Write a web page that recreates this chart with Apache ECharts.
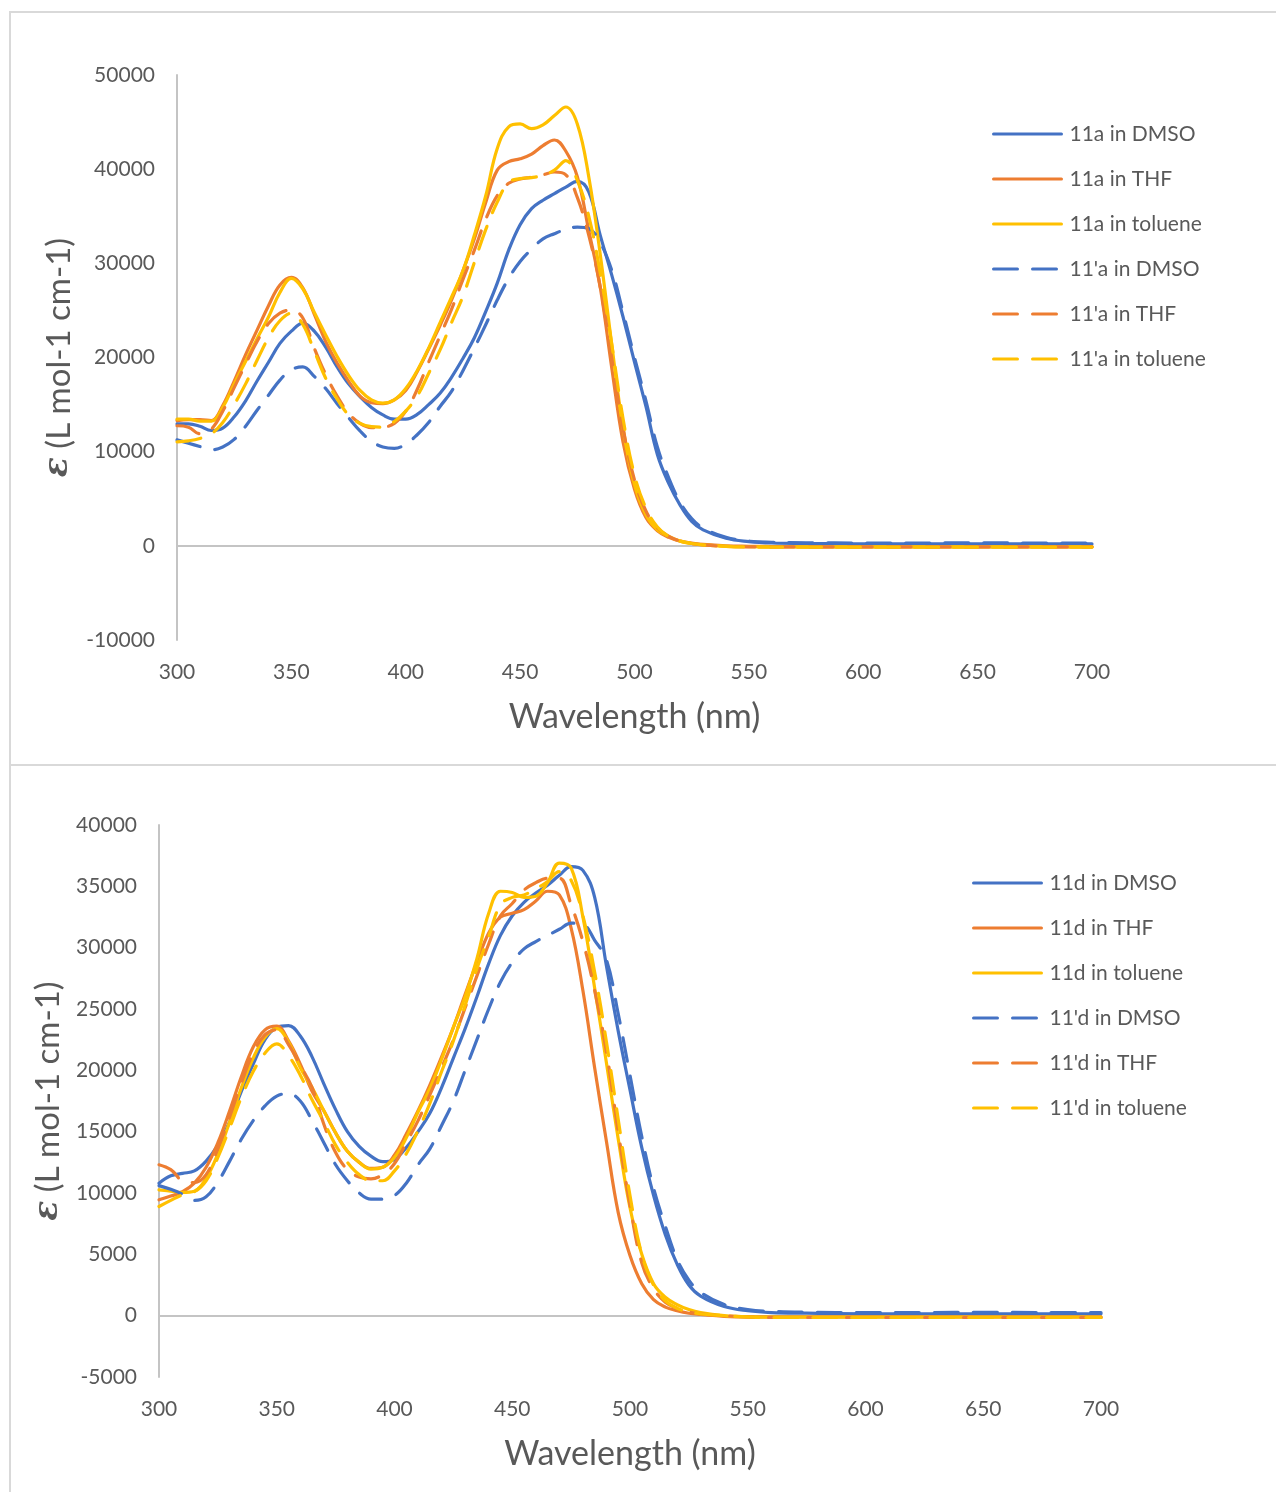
<!DOCTYPE html>
<html>
<head>
<meta charset="utf-8">
<title>Absorption spectra of 11a / 11'a and 11d / 11'd</title>
<script src="https://cdn.jsdelivr.net/npm/echarts@6/dist/echarts.min.js"></script>
<style>
  html, body { margin: 0; padding: 0; background: #ffffff; }
  #chart { width: 1276px; height: 1492px; }
</style>
</head>
<body>
<div id="chart"></div>
<script>
// Wavelength sampling (nm) shared by every spectrum
const wavelengths = [300,305,310,315,320,325,330,335,340,345,350,355,360,365,370,375,380,385,390,395,
  400,405,410,415,420,425,430,435,440,445,450,455,460,465,470,475,480,485,490,495,
  500,505,510,515,520,525,530,540,550,560,575,600,625,650,675,700];

// Molar absorptivity, L mol-1 cm-1 — compound 11a (solid) and 11'a (dashed)
const eps11a_DMSO = [12950,12950,12700,12250,12500,13700,15400,17500,19500,21500,22800,23650,22800,21100,19000,17200,15850,14700,13900,13450,
  13450,13950,15000,16200,17900,19900,22100,24900,27900,31400,34100,35800,36700,37400,38100,38700,37600,33000,28800,24300,
  19500,14800,9700,6600,4300,2600,1700,800,450,300,250,200,200,200,200,200];
const eps11a_THF = [13300,13400,13400,13300,14900,17500,20300,22900,25500,27700,28500,27400,24600,21700,19400,17500,15900,15200,15100,15500,
  16500,18500,20900,23400,26100,29200,32600,36500,39900,40800,41100,41600,42500,43100,41900,39200,33500,27500,19000,11000,
  6000,3000,1600,900,500,300,150,0,-50,-80,-100,-100,-100,-100,-100,-100];
const eps11a_toluene = [13450,13450,13250,13250,14700,17200,19600,22000,24300,26900,28400,27300,24800,22400,20100,18100,16500,15500,15150,15500,
  16700,18600,21000,23700,26400,29200,33000,37200,42200,44500,44800,44300,44700,45700,46600,44800,39200,31000,21500,12500,
  6500,3300,1700,1000,500,250,100,-50,-100,-120,-120,-120,-120,-120,-120,-120];
const eps11pa_DMSO = [11250,10900,10550,10200,10500,11300,12700,14400,16000,17600,18700,19000,18000,16700,15100,13600,12200,11100,10500,10350,
  10800,11800,13100,14800,16400,18600,21000,23500,26100,28400,30200,31500,32600,33150,33600,33850,33700,32200,29300,24800,
  20000,15400,10500,7200,4600,2900,1900,900,500,380,330,300,300,330,300,300];
const eps11pa_THF = [12750,12600,11900,12400,14300,16800,19300,21700,23600,24700,25050,24200,21000,18200,15900,14100,13000,12550,12600,13000,
  14300,16600,19500,22300,25100,28300,31400,34700,37200,38500,38950,39150,39400,39700,39400,37000,33000,27500,20000,12500,
  7000,3700,1900,1000,500,250,100,-50,-100,-100,-100,-100,-100,-100,-100,-100];
const eps11pa_toluene = [11050,11150,11400,11900,13100,15000,17200,19700,22100,23900,24700,23500,20700,17800,15600,13900,13000,12650,12600,13200,
  14300,15900,18300,20800,23700,26500,30100,33600,36500,38600,39000,39100,39350,39900,40900,38800,35000,29000,21500,13500,
  7500,4000,2000,1000,500,250,100,-50,-120,-130,-130,-130,-130,-130,-130,-130];

// Molar absorptivity, L mol-1 cm-1 — compound 11d (solid) and 11'd (dashed)
const eps11d_DMSO = [10800,11400,11600,11800,12600,13900,15800,18300,20500,22500,23500,23650,22800,21100,18900,16800,15000,13800,13000,12550,
  12750,13700,15000,16500,18600,21000,23400,26000,28700,31000,32600,33700,34450,35100,35900,36600,36300,34100,28500,23200,
  18400,13700,9800,6600,4200,2500,1600,750,400,250,200,150,150,150,150,150];
const eps11d_THF = [9450,9750,10100,10800,12100,14100,16700,19500,21900,23300,23600,22400,20500,18300,16700,14900,13400,12500,12000,12100,
  13100,14800,16700,18800,21100,23500,26200,28800,31200,32500,32800,33100,33800,34600,34300,31600,26500,20200,14200,8400,
  4900,2600,1300,700,400,200,100,-50,-100,-100,-100,-100,-100,-100,-100,-100];
const eps11d_toluene = [10250,10150,10050,10150,11200,13200,15800,18600,21000,22700,23400,22300,20200,18600,16700,14900,13400,12500,11950,12100,
  12900,14500,16600,18500,20900,23500,26000,29100,32800,34600,34500,34100,34200,35300,36900,36500,32500,26700,20600,14400,
  8800,5000,2600,1500,900,500,250,0,-100,-120,-120,-120,-120,-120,-120,-120];
const eps11pd_DMSO = [10600,10300,9900,9400,9700,10900,12600,14400,15900,17100,17900,18100,17500,15900,14100,12300,11000,10000,9500,9500,
  9800,10800,12300,13600,15500,17500,20000,22500,25000,27200,28800,29900,30500,31000,31500,32000,31900,30600,29000,24600,
  19600,14600,10400,7300,4600,2900,1900,900,500,350,280,250,250,280,250,250];
const eps11pd_THF = [12300,11900,11000,10850,11500,13600,16200,19000,21400,22900,23300,22100,20400,18600,15600,13300,11900,11300,11150,11500,
  12400,14100,15900,18000,20200,22500,25100,27700,30300,32600,33600,34700,35300,35650,35650,33500,30500,26500,21500,15000,
  9000,4300,2200,1100,600,300,150,0,-100,-150,-150,-150,-150,-150,-150,-150];
const eps11pd_toluene = [8900,9400,9850,10100,11000,12900,15300,17800,19900,21400,22150,21200,19600,17600,15800,13900,12500,11500,11000,11000,
  11800,13200,15100,17300,19900,22400,25300,28300,30900,33500,34100,34300,34800,35400,36200,35500,32600,28000,22300,16000,
  9800,5000,2500,1200,600,300,150,0,-100,-150,-150,-150,-150,-150,-150,-150];

// Legend labels
const namesTop = ['11a in DMSO', '11a in THF', '11a in toluene', "11'a in DMSO", "11'a in THF", "11'a in toluene"];
const namesBottom = ['11d in DMSO', '11d in THF', '11d in toluene', "11'd in DMSO", "11'd in THF", "11'd in toluene"];

// Axis tick settings
const xMin = 300, xMax = 700, xStep = 50;
const yTop = { min: -10000, max: 50000, step: 10000 };
const yBottom = { min: -5000, max: 40000, step: 5000 };

const BLUE = '#4472C4', ORANGE = '#ED7D31', GOLD = '#FFC000';
const TEXT = '#595959', AXIS = '#c4c4c4';
const FONT = 'Lato, "Open Sans", sans-serif';
const DASH = [24, 15];

function pairs(values) {
  return wavelengths.map((w, i) => [w, values[i]]);
}

function spectrum(name, values, color, dashed, gridIdx) {
  return {
    name: name,
    type: 'line',
    xAxisIndex: gridIdx * 2,
    yAxisIndex: gridIdx,
    data: pairs(values),
    symbol: 'none',
    smooth: 0.4,
    lineStyle: { color: color, width: 3.2, type: dashed ? DASH : 'solid', cap: 'round', join: 'round' },
    itemStyle: { color: color },
    emphasis: { disabled: true },
    animation: false
  };
}

function valueXAxis(gridIdx) {
  return {
    type: 'value', gridIndex: gridIdx, min: xMin, max: xMax, interval: xStep,
    position: 'bottom',
    axisLine: { show: false, onZero: false },
    axisTick: { show: false },
    splitLine: { show: false },
    axisLabel: { color: TEXT, fontSize: 21, fontFamily: FONT, margin: 22, formatter: v => String(v) },
    name: 'Wavelength (nm)',
    nameLocation: 'middle',
    nameGap: 60,
    nameTextStyle: { color: TEXT, fontSize: 34, fontFamily: FONT }
  };
}

// second x axis per panel: only its line, sitting on y = 0
function zeroXAxis(gridIdx) {
  return {
    type: 'value', gridIndex: gridIdx, min: xMin, max: xMax, interval: xStep,
    position: 'top',
    axisLine: { show: true, onZero: true, lineStyle: { color: AXIS, width: 2 } },
    axisTick: { show: false },
    axisLabel: { show: false },
    splitLine: { show: false }
  };
}

function valueYAxis(gridIdx, cfg, gap) {
  return {
    type: 'value', gridIndex: gridIdx, min: cfg.min, max: cfg.max, interval: cfg.step,
    axisLine: { show: true, onZero: false, lineStyle: { color: AXIS, width: 2 } },
    axisTick: { show: false },
    splitLine: { show: false },
    axisLabel: { color: TEXT, fontSize: 21, fontFamily: FONT, margin: 22, formatter: v => String(v) },
    name: '{e|ε} (L mol-1 cm-1)',
    nameLocation: 'middle',
    nameRotate: 90,
    nameGap: gap,
    nameTextStyle: {
      color: TEXT, fontSize: 33, fontFamily: FONT,
      rich: { e: { color: TEXT, fontSize: 33, fontFamily: '"DejaVu Serif", serif', fontStyle: 'italic', fontWeight: 'bold' } }
    }
  };
}

function legendFor(names, left, top) {
  return {
    data: names,
    orient: 'vertical',
    left: left, top: top,
    itemWidth: 68, itemHeight: 2, itemGap: 21,
    selectedMode: false,
    itemStyle: { opacity: 0 },
    lineStyle: { width: 3 },
    textStyle: { color: TEXT, fontSize: 21, fontFamily: FONT, lineHeight: 24, padding: [0, 0, 0, 3] }
  };
}

const chart = echarts.init(document.getElementById('chart'), null, { renderer: 'canvas' });

chart.setOption({
  backgroundColor: '#ffffff',
  animation: false,
  graphic: [
    { type: 'rect', shape: { x: 10, y: 12, width: 1290, height: 753 }, style: { fill: 'none', stroke: '#d9d9d9', lineWidth: 2 }, z: -10 },
    { type: 'rect', shape: { x: 10, y: 765, width: 1290, height: 760 }, style: { fill: 'none', stroke: '#d9d9d9', lineWidth: 2 }, z: -10 }
  ],
  grid: [
    { left: 177, top: 75, width: 915, height: 565 },
    { left: 159, top: 825, width: 942, height: 552 }
  ],
  xAxis: [valueXAxis(0), zeroXAxis(0), valueXAxis(1), zeroXAxis(1)],
  yAxis: [valueYAxis(0, yTop, 100), valueYAxis(1, yBottom, 90)],
  legend: [legendFor(namesTop, 987, 117), legendFor(namesBottom, 967, 866)],
  series: [
    spectrum(namesTop[0], eps11a_DMSO, BLUE, false, 0),
    spectrum(namesTop[1], eps11a_THF, ORANGE, false, 0),
    spectrum(namesTop[2], eps11a_toluene, GOLD, false, 0),
    spectrum(namesTop[3], eps11pa_DMSO, BLUE, true, 0),
    spectrum(namesTop[4], eps11pa_THF, ORANGE, true, 0),
    spectrum(namesTop[5], eps11pa_toluene, GOLD, true, 0),
    spectrum(namesBottom[0], eps11d_DMSO, BLUE, false, 1),
    spectrum(namesBottom[1], eps11d_THF, ORANGE, false, 1),
    spectrum(namesBottom[2], eps11d_toluene, GOLD, false, 1),
    spectrum(namesBottom[3], eps11pd_DMSO, BLUE, true, 1),
    spectrum(namesBottom[4], eps11pd_THF, ORANGE, true, 1),
    spectrum(namesBottom[5], eps11pd_toluene, GOLD, true, 1)
  ]
});
</script>
</body>
</html>
